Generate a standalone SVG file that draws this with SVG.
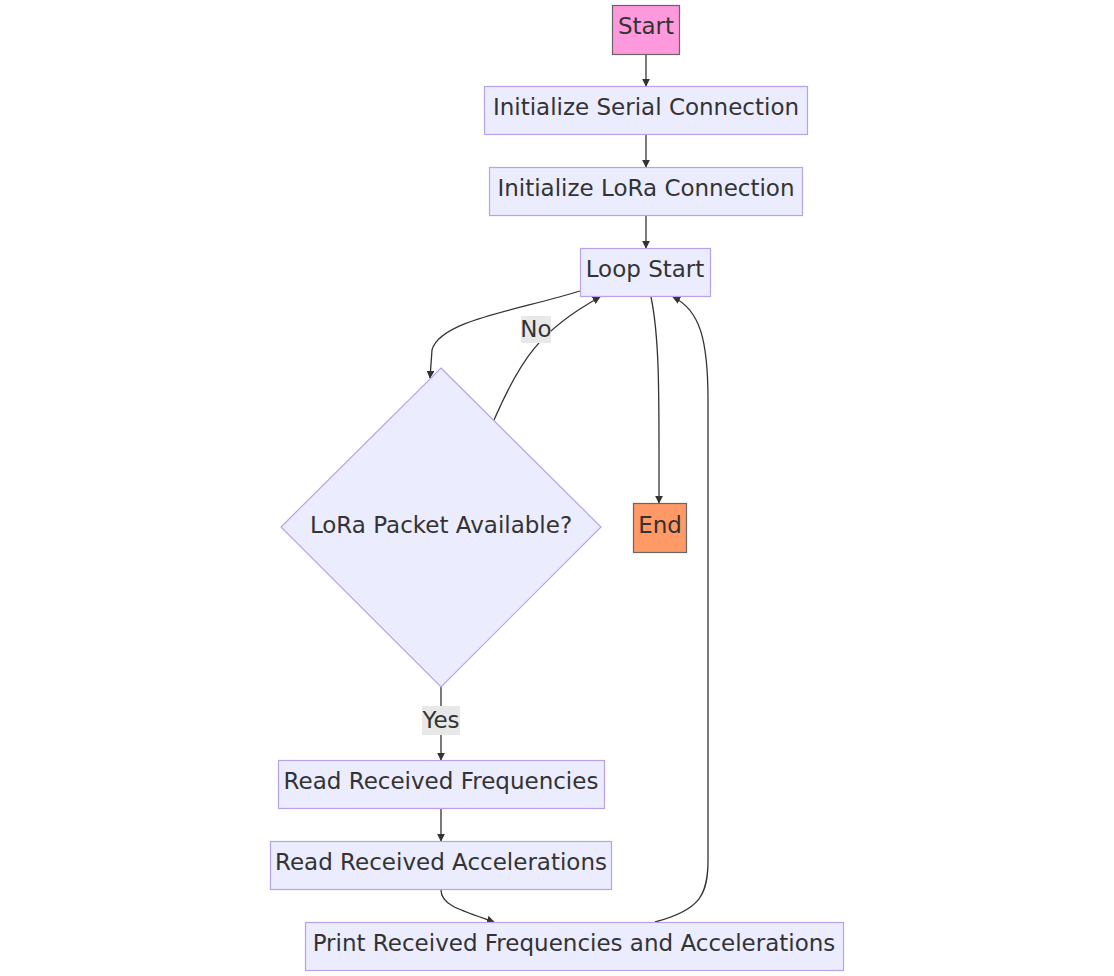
<svg xmlns="http://www.w3.org/2000/svg" width="1114" height="976" viewBox="0 0 1114 976">
<style>
.n rect,.n polygon{fill:#ECECFF;stroke:#B8A2E8;stroke-width:1.2}
text{font-family:"DejaVu Sans","Liberation Sans",sans-serif;font-size:23px;fill:#333;text-anchor:middle;dominant-baseline:central}
.e{fill:none;stroke:#333;stroke-width:1.3}
.lb{fill:#e8e8e8;stroke:none}
</style>
<defs>
<marker id="ah" viewBox="0 0 10 10" refX="9" refY="5" markerWidth="8" markerHeight="8" markerUnits="userSpaceOnUse" orient="auto">
<path d="M0,0 L10,5 L0,10 z" fill="#333"/>
</marker>
</defs>
<rect width="1114" height="976" fill="#fff"/>
<g id="edges">
<path class="e" d="M646,54 L646,86" marker-end="url(#ah)"/>
<path class="e" d="M646,134 L646,167" marker-end="url(#ah)"/>
<path class="e" d="M646,215 L646,248" marker-end="url(#ah)"/>
<path class="e" d="M580,291 C520,310 440,320 432,350 L430,378" marker-end="url(#ah)"/>
<path class="e" d="M494,420 C520,360 540,330 600,297" marker-end="url(#ah)"/>
<path class="e" d="M651,297 C660,340 659,400 659,503" marker-end="url(#ah)"/>
<path class="e" d="M655,922 C700,910 708,895 708,860 L708,400 C708,340 700,310 673,297" marker-end="url(#ah)"/>
<path class="e" d="M441,687 L441,760" marker-end="url(#ah)"/>
<path class="e" d="M441,808 L441,841" marker-end="url(#ah)"/>
<path class="e" d="M441,890 C441,905 460,910 494,922" marker-end="url(#ah)"/>
<rect class="lb" x="521" y="316" width="30" height="27"/>
<text x="536" y="329">No</text>
<rect class="lb" x="422" y="706" width="38" height="29"/>
<text x="441" y="720">Yes</text>
</g>
<g id="start" class="n"><rect x="612.5" y="5.5" width="67" height="49" style="fill:#FF99DD;stroke:#666"/><text x="646" y="26">Start</text></g>
<g id="serial" class="n"><rect x="484.5" y="86.5" width="323" height="48"/><text x="646" y="107">Initialize Serial Connection</text></g>
<g id="lora" class="n"><rect x="489.5" y="167.5" width="313" height="48"/><text x="646" y="188">Initialize LoRa Connection</text></g>
<g id="loop" class="n"><rect x="580.5" y="248.5" width="130" height="48"/><text x="645" y="269">Loop Start</text></g>
<g id="decision" class="n"><polygon points="441,368 601,527 441,687 281,527"/><text x="441" y="525">LoRa Packet Available?</text></g>
<g id="end" class="n"><rect x="633.5" y="503.5" width="53" height="49" style="fill:#FF9966;stroke:#666"/><text x="660" y="525">End</text></g>
<g id="readfreq" class="n"><rect x="278.5" y="760.5" width="326" height="48"/><text x="441" y="781">Read Received Frequencies</text></g>
<g id="readacc" class="n"><rect x="270.5" y="841.5" width="341" height="48"/><text x="441" y="862">Read Received Accelerations</text></g>
<g id="print" class="n"><rect x="305.5" y="922.5" width="538" height="48"/><text x="574" y="943">Print Received Frequencies and Accelerations</text></g>
</svg>
